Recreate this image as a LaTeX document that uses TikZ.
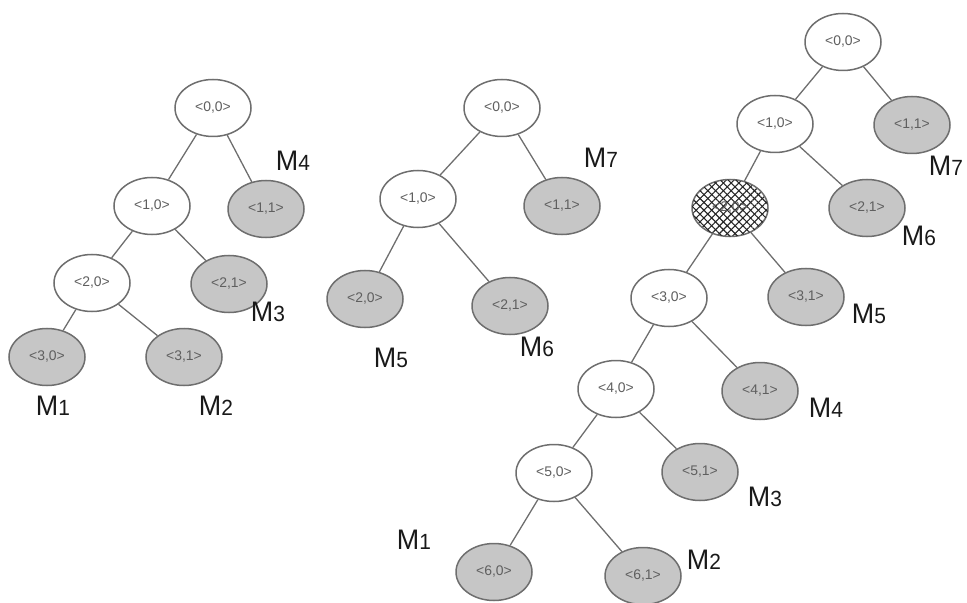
\documentclass[tikz,border=0pt]{standalone}
\usepackage{fontspec}
\setmainfont{Liberation Sans}
\usetikzlibrary{shapes.geometric,patterns.meta}
\definecolor{leaf}{RGB}{198,198,198}
\definecolor{edgec}{RGB}{110,110,110}
\definecolor{ntext}{RGB}{95,95,95}
\tikzset{
 st/.style={ellipse, draw=edgec, line width=1.5bp, minimum width=76bp, minimum height=57bp, inner sep=0pt, font=\fontsize{14}{14}\selectfont, text=ntext, fill=white},
 lf/.style={st, fill=leaf},
 hatchnode/.style={st, pattern={Lines[angle=45,distance=5.5bp,line width=1.1bp]}, pattern color=black!85, postaction={pattern={Lines[angle=-45,distance=5.5bp,line width=1.1bp]}, pattern color=black!85}},
 ln/.style={draw=edgec, line width=1.3bp},
 mlab/.style={inner sep=0pt, text=black!90}
}
\newcommand{\mlabel}[1]{\scalebox{1}[1.05]{\fontsize{27}{27}\selectfont M\fontsize{21}{21}\selectfont #1}}
\begin{document}
\begin{tikzpicture}[x=1bp,y=-1bp]
\useasboundingbox (0,0) rectangle (967,603);
% Tree 1
\node[st] (a0) at (213,108) {<0,0>};
\node[st] (a1) at (152,206) {<1,0>};
\node[lf] (a11) at (266,209) {<1,1>};
\node[st] (a2) at (92,283) {<2,0>};
\node[lf] (a21) at (229,284) {<2,1>};
\node[lf] (a3) at (47,357) {<3,0>};
\node[lf] (a31) at (184,357) {<3,1>};
\draw[ln] (a0) -- (a1);
\draw[ln] (a0) -- (a11);
\draw[ln] (a1) -- (a2);
\draw[ln] (a1) -- (a21);
\draw[ln] (a2) -- (a3);
\draw[ln] (a2) -- (a31);
\node[mlab] (am4) at (293,161) {\mlabel{4}};
\node[mlab] (am3) at (268,312) {\mlabel{3}};
\node[mlab] (am1) at (53,406) {\mlabel{1}};
\node[mlab] (am2) at (216,406) {\mlabel{2}};
% Tree 2
\node[st] (b0) at (502,108) {<0,0>};
\node[st] (b1) at (418,199) {<1,0>};
\node[lf] (b11) at (562,206) {<1,1>};
\node[lf] (b2) at (365,299) {<2,0>};
\node[lf] (b21) at (510,306) {<2,1>};
\draw[ln] (b0) -- (b1);
\draw[ln] (b0) -- (b11);
\draw[ln] (b1) -- (b2);
\draw[ln] (b1) -- (b21);
\node[mlab] (bm7) at (601,158) {\mlabel{7}};
\node[mlab] (bm5) at (391,358) {\mlabel{5}};
\node[mlab] (bm6) at (537,347) {\mlabel{6}};
% Tree 3
\node[st] (c0) at (843,42) {<0,0>};
\node[st] (c1) at (775,124) {<1,0>};
\node[lf] (c11) at (912,125) {<1,1>};
\node[hatchnode] (c2) at (730,208) {<2,0>};
\node[lf] (c21) at (867,208) {<2,1>};
\node[st] (c3) at (669,298) {<3,0>};
\node[lf] (c31) at (806,297) {<3,1>};
\node[st] (c4) at (616,389) {<4,0>};
\node[lf] (c41) at (760,391) {<4,1>};
\node[st] (c5) at (554,473) {<5,0>};
\node[lf] (c51) at (700,472) {<5,1>};
\node[lf] (c6) at (494,572) {<6,0>};
\node[lf] (c61) at (643,576) {<6,1>};
\draw[ln] (c0) -- (c1);
\draw[ln] (c0) -- (c11);
\draw[ln] (c1) -- (c2);
\draw[ln] (c1) -- (c21);
\draw[ln] (c2) -- (c3);
\draw[ln] (c2) -- (c31);
\draw[ln] (c3) -- (c4);
\draw[ln] (c3) -- (c41);
\draw[ln] (c4) -- (c5);
\draw[ln] (c4) -- (c51);
\draw[ln] (c5) -- (c6);
\draw[ln] (c5) -- (c61);
\node[mlab] (cm7) at (946,166) {\mlabel{7}};
\node[mlab] (cm6) at (919,236) {\mlabel{6}};
\node[mlab] (cm5) at (869,314) {\mlabel{5}};
\node[mlab] (cm4) at (826,408) {\mlabel{4}};
\node[mlab] (cm3) at (765,497) {\mlabel{3}};
\node[mlab] (cm1) at (414,540) {\mlabel{1}};
\node[mlab] (cm2) at (704,560) {\mlabel{2}};
\end{tikzpicture}
\end{document}
